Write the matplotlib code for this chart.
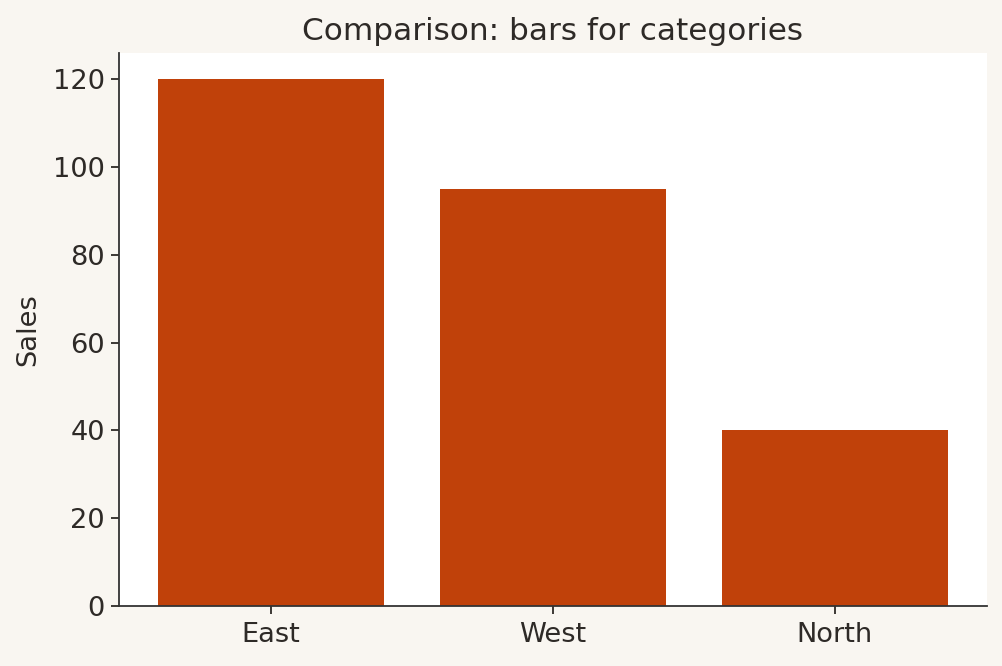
import matplotlib
matplotlib.use("Agg")
import matplotlib.pyplot as plt

categories = ["East", "West", "North"]
sales = [120, 95, 40]

text_color = "#2e2a27"
fig = plt.figure(figsize=(10.02, 6.66), dpi=100, facecolor="#f9f6f1")
ax = fig.add_axes([119/1002, 1-606/666, (987-119)/1002, (606-53)/666])
ax.set_facecolor("white")
ax.bar(categories, sales, width=0.8, color="#c0410a")
ax.set_title("Comparison: bars for categories", fontsize=22.4, color=text_color, pad=9.5)
ax.set_ylabel("Sales", fontsize=19.6, color=text_color, labelpad=8)
ax.tick_params(axis="y", labelsize=19.6, colors=text_color, length=5.8, width=1.3, pad=4.5)
ax.tick_params(axis="x", labelsize=19.6, colors=text_color, length=5.8, width=1.3, pad=6)
for s in ["top", "right"]:
    ax.spines[s].set_visible(False)
for s in ["left", "bottom"]:
    ax.spines[s].set_color("#333333")
    ax.spines[s].set_linewidth(1.3)
fig.savefig("out.png", dpi=100, facecolor=fig.get_facecolor())
